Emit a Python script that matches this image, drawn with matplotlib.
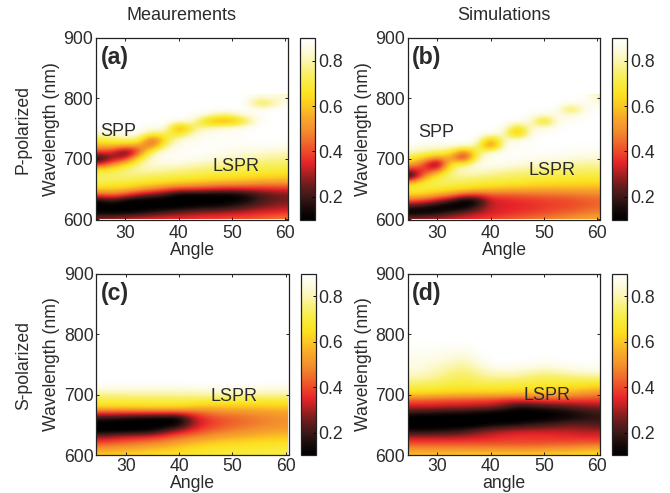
import numpy as np
import matplotlib
matplotlib.use("Agg")
import matplotlib.pyplot as plt
from matplotlib.colors import LinearSegmentedColormap

plt.rcParams['font.family'] = ['Liberation Sans', 'DejaVu Sans']

# Angles of the data columns; wavelengths start at 600 nm in 10 nm steps.
angles = [25, 27.5, 30, 32.5, 35, 37.5, 40, 42.5, 45, 47.5, 50, 52.5, 55, 57.5, 60]
wavelength_start = 600
wavelength_step = 10
n_rows = 21
top_value = 0.9

# Each inner list: reflectance from 600 nm upward, one list per angle.
panel_a = [
    [.30, .12, .08, .12, .42, .62, .72, .74, .68, .33, .12, .38, .56, .70, .82],
    [.32, .10, .08, .20, .45, .62, .71, .75, .70, .48, .28, .36, .58, .72, .84],
    [.35, .12, .08, .10, .40, .60, .70, .76, .77, .63, .30, .17, .52, .76, .87],
    [.36, .14, .08, .08, .30, .55, .68, .75, .80, .78, .65, .38, .52, .75, .87],
    [.38, .18, .09, .08, .25, .50, .66, .73, .80, .85, .85, .78, .42, .34, .72, .87],
    [.38, .22, .09, .07, .20, .45, .64, .72, .78, .85, .88, .87, .78, .66, .76, .88],
    [.38, .26, .10, .07, .10, .40, .62, .71, .77, .84, .89, .88, .87, .85, .62, .46, .84],
    [.38, .28, .12, .07, .10, .40, .60, .70, .75, .82, .88, .89, .88, .87, .82, .72, .86, .89],
    [.40, .30, .14, .08, .10, .38, .58, .69, .74, .80, .86, .89, .89, .88, .87, .80, .58, .85],
    [.40, .30, .15, .08, .10, .36, .56, .68, .73, .78, .84, .88, .89, .89, .88, .84, .52, .74, .89],
    [.42, .32, .18, .10, .10, .35, .55, .67, .72, .76, .81, .86, .88, .89, .88, .86, .52, .76],
    [.42, .33, .22, .13, .14, .35, .55, .65, .71, .75, .80, .85, .88, .89, .89, .88, .68, .85],
    [.44, .35, .26, .20, .20, .35, .52, .64, .70, .74, .79, .84, .88, .90, .90, .90, .88, .88, .88, .66, .85],
    [.46, .36, .28, .24, .24, .36, .52, .63, .70, .74, .78, .83, .88, .90, .90, .90, .90, .90, .89, .74, .87],
    [.48, .38, .30, .26, .26, .36, .52, .62, .69, .73, .77, .82, .87, .90, .90, .90, .90, .90, .90, .88, .82],
]

panel_b = [
    [.30, .09, .18, .42, .62, .71, .55, .10, .30, .55, .70, .82, .88],
    [.32, .10, .15, .38, .60, .71, .70, .48, .38, .42, .60, .78, .86],
    [.33, .14, .09, .30, .55, .69, .74, .70, .40, .12, .48, .75, .85],
    [.35, .20, .08, .20, .50, .67, .73, .78, .76, .70, .56, .70, .86],
    [.36, .26, .09, .08, .40, .65, .72, .78, .84, .72, .24, .40, .84],
    [.38, .30, .20, .12, .38, .62, .71, .77, .84, .87, .80, .72, .82, .89],
    [.40, .33, .33, .33, .42, .60, .70, .75, .82, .88, .88, .85, .34, .50, .87],
    [.42, .35, .34, .34, .42, .58, .69, .74, .80, .87, .89, .88, .87, .84, .84, .89],
    [.44, .37, .35, .36, .43, .57, .68, .73, .78, .85, .89, .89, .89, .86, .48, .60, .88],
    [.46, .38, .36, .37, .44, .56, .67, .72, .77, .83, .88, .89, .89, .89, .87, .85, .85, .89],
    [.48, .40, .38, .38, .45, .56, .66, .71, .76, .81, .87, .89, .90, .90, .89, .85, .56, .82],
    [.50, .42, .39, .39, .45, .56, .65, .70, .75, .80, .86, .89, .90, .90, .90, .88, .87, .87, .89],
    [.52, .44, .40, .40, .46, .56, .65, .70, .75, .79, .85, .88, .89, .90, .90, .90, .88, .85, .64, .88],
    [.54, .46, .42, .42, .47, .56, .64, .70, .74, .78, .84, .88, .89, .90, .90, .90, .90, .88, .86, .88],
    [.56, .48, .44, .43, .48, .56, .64, .70, .74, .78, .84, .87, .89, .90, .90, .90, .90, .90, .89, .87, .80],
]

panel_c = [
    [.62, .52, .40, .28, .09, .07, .18, .40, .64, .71, .78, .86],
    [.62, .53, .42, .30, .09, .07, .16, .40, .64, .71, .78, .86],
    [.63, .55, .44, .33, .10, .07, .14, .40, .64, .71, .78, .86],
    [.64, .56, .46, .34, .11, .07, .12, .40, .65, .71, .79, .86],
    [.65, .58, .48, .36, .13, .07, .11, .40, .65, .71, .79, .86],
    [.66, .60, .50, .40, .22, .08, .10, .40, .65, .71, .79, .86],
    [.67, .62, .54, .44, .30, .12, .10, .40, .65, .72, .79, .86],
    [.68, .64, .57, .48, .36, .28, .28, .42, .62, .71, .79, .86],
    [.69, .66, .60, .50, .42, .36, .37, .45, .60, .71, .80, .87],
    [.70, .67, .62, .53, .45, .40, .41, .48, .60, .70, .80, .87],
    [.70, .68, .63, .55, .48, .43, .43, .49, .61, .70, .80, .87],
    [.70, .68, .64, .56, .50, .45, .45, .50, .61, .70, .80, .87],
    [.71, .69, .65, .58, .52, .47, .47, .51, .61, .69, .80, .86],
    [.71, .69, .65, .59, .53, .49, .49, .52, .62, .69, .80, .86],
    [.71, .70, .66, .60, .54, .50, .50, .53, .62, .69, .80, .86],
]

panel_d = [
    [.60, .50, .40, .30, .15, .07, .07, .20, .33, .42, .62, .70, .76, .82, .85, .86, .87, .88, .89],
    [.60, .50, .40, .30, .14, .07, .07, .18, .33, .42, .61, .70, .75, .81, .84, .85, .87, .88, .89],
    [.61, .50, .40, .30, .16, .07, .07, .17, .33, .41, .60, .69, .74, .78, .81, .84, .86, .88, .89],
    [.61, .50, .40, .30, .17, .07, .07, .16, .32, .40, .59, .68, .72, .75, .78, .81, .85, .87, .89],
    [.62, .50, .40, .31, .20, .07, .07, .15, .32, .40, .58, .68, .71, .73, .76, .79, .83, .86, .89],
    [.62, .50, .40, .32, .25, .08, .07, .13, .31, .39, .58, .68, .72, .76, .80, .84, .87, .89],
    [.62, .50, .40, .34, .28, .12, .07, .12, .30, .38, .58, .68, .74, .79, .84, .88],
    [.62, .50, .40, .36, .30, .14, .07, .10, .25, .36, .57, .68, .73, .79, .85, .89],
    [.62, .50, .40, .37, .32, .15, .08, .07, .18, .35, .56, .68, .72, .79, .85, .89],
    [.62, .50, .40, .37, .32, .18, .09, .08, .19, .36, .56, .67, .71, .76, .83, .88],
    [.63, .51, .40, .37, .32, .20, .10, .09, .21, .38, .56, .66, .70, .74, .81, .87, .89],
    [.63, .52, .41, .36, .32, .22, .12, .11, .23, .38, .55, .65, .70, .75, .83, .88],
    [.64, .52, .41, .36, .31, .25, .14, .14, .25, .38, .53, .64, .70, .77, .85, .89],
    [.65, .54, .42, .35, .30, .24, .16, .17, .27, .38, .50, .62, .70, .78, .86, .89],
    [.66, .55, .42, .35, .30, .22, .18, .20, .28, .38, .48, .60, .69, .79, .87, .89],
]

column_headers = ["Meaurements", "Simulations"]
row_headers = ["P-polarized", "S-polarized"]
panel_letters = ["(a)", "(b)", "(c)", "(d)"]
x_labels = ["Angle", "Angle", "Angle", "angle"]
y_label = "Wavelength (nm)"
x_ticks = [30, 40, 50, 60]
y_ticks = [600, 700, 800, 900]
cbar_ticks = [0.2, 0.4, 0.6, 0.8]

# (label, angle, wavelength)
notes = [
    [("SPP", 28.6, 746), ("LSPR", 50.75, 688)],
    [("SPP", 29.75, 743), ("LSPR", 51.5, 681)],
    [("LSPR", 50.2, 697)],
    [("LSPR", 50.6, 698.5)],
]

cmap_levels = [.10, .15, .20, .25, .30, .35, .40, .45, .50, .55, .60, .65, .70, .75, .80, .85, .90]
cmap_colors = ["#000000", "#1a0a0a", "#3c1a18", "#6a1c1c", "#a82020", "#e8242a", "#ee4a2a", "#f0702c",
               "#f4922c", "#f8a82a", "#fcc820", "#fde020", "#f8ec3c", "#f9f070", "#fbf6b0", "#fdfbe0", "#ffffff"]
cmap = LinearSegmentedColormap.from_list(
    "hotbar", [((v - .10) / .80, c) for v, c in zip(cmap_levels, cmap_colors)])

W, H = 670, 493
TXT = "#2b2b2b"
boxes = [(96, 38, 192, 181.5), (408, 38, 192, 181.5), (96.5, 273.7, 192, 181.5), (408, 273.7, 192, 181.5)]
bars = [(300, 38, 15, 181.5), (612, 38, 15, 181.5), (300.5, 273.7, 15, 181.5), (612, 273.7, 15, 181.5)]
x_tick_pads = [4, 4, 2, 2]
x_label_pads = [0, 0, 0, 0]


def px_axes(fig, box):
    x, y, w, h = box
    return fig.add_axes([x / W, 1 - (y + h) / H, w / W, h / H])


def to_grid(columns):
    grid = np.full((n_rows, len(columns)), top_value)
    for j, col in enumerate(columns):
        grid[:len(col), j] = col
    return grid


fig = plt.figure(figsize=(W / 100, H / 100), dpi=100)
panels = [panel_a, panel_b, panel_c, panel_d]
half_x = (angles[1] - angles[0]) / 2
for i, columns in enumerate(panels):
    ax = px_axes(fig, boxes[i])
    ax.set_facecolor("white")
    top = wavelength_start + wavelength_step * (n_rows - 1)
    im = ax.imshow(to_grid(columns), origin="lower", aspect="auto", cmap=cmap, vmin=0.1, vmax=0.9,
                   interpolation="bicubic",
                   extent=[angles[0] - half_x, angles[-1] + half_x,
                           wavelength_start - wavelength_step / 2, top + wavelength_step / 2])
    ax.set_xlim(24.5, 60.5)
    ax.set_ylim(600, 900)
    ax.set_xticks(x_ticks)
    ax.set_yticks(y_ticks)
    ax.tick_params(direction="in", top=True, right=True, length=2.5, width=0.7, labelsize=12.7,
                   colors="#222222", labelcolor=TXT, pad=2)
    ax.tick_params(axis="x", pad=x_tick_pads[i])
    for s in ax.spines.values():
        s.set_linewidth(0.9)
        s.set_color("#222222")
    ax.set_xlabel(x_labels[i], fontsize=12.7, color=TXT, labelpad=x_label_pads[i])
    ax.set_ylabel(y_label, fontsize=12.7, color=TXT, labelpad=2.5)
    ax.text(28, 867, panel_letters[i], fontsize=16.7, fontweight="bold", color=TXT, ha="center", va="center")
    for label, xv, yv in notes[i]:
        ax.text(xv, yv, label, fontsize=13, color=TXT, ha="center", va="center")
    cax = px_axes(fig, bars[i])
    cb = fig.colorbar(im, cax=cax)
    cb.set_ticks(cbar_ticks)
    cb.ax.tick_params(direction="in", length=2.5, width=0.7, labelsize=12.7, labelcolor=TXT, pad=2)
    cb.outline.set_linewidth(0.9)
    cb.outline.set_edgecolor("#222222")

fig.text(182 / W, 1 - 16 / H, column_headers[0], fontsize=13, color=TXT, ha="center", va="center")
fig.text(504 / W, 1 - 16 / H, column_headers[1], fontsize=13, color=TXT, ha="center", va="center")
fig.text(23 / W, 1 - 130 / H, row_headers[0], fontsize=12.7, color=TXT, rotation=90, ha="center", va="center")
fig.text(24 / W, 1 - 365 / H, row_headers[1], fontsize=12.7, color=TXT, rotation=90, ha="center", va="center")
fig.savefig("out.png", dpi=100)
